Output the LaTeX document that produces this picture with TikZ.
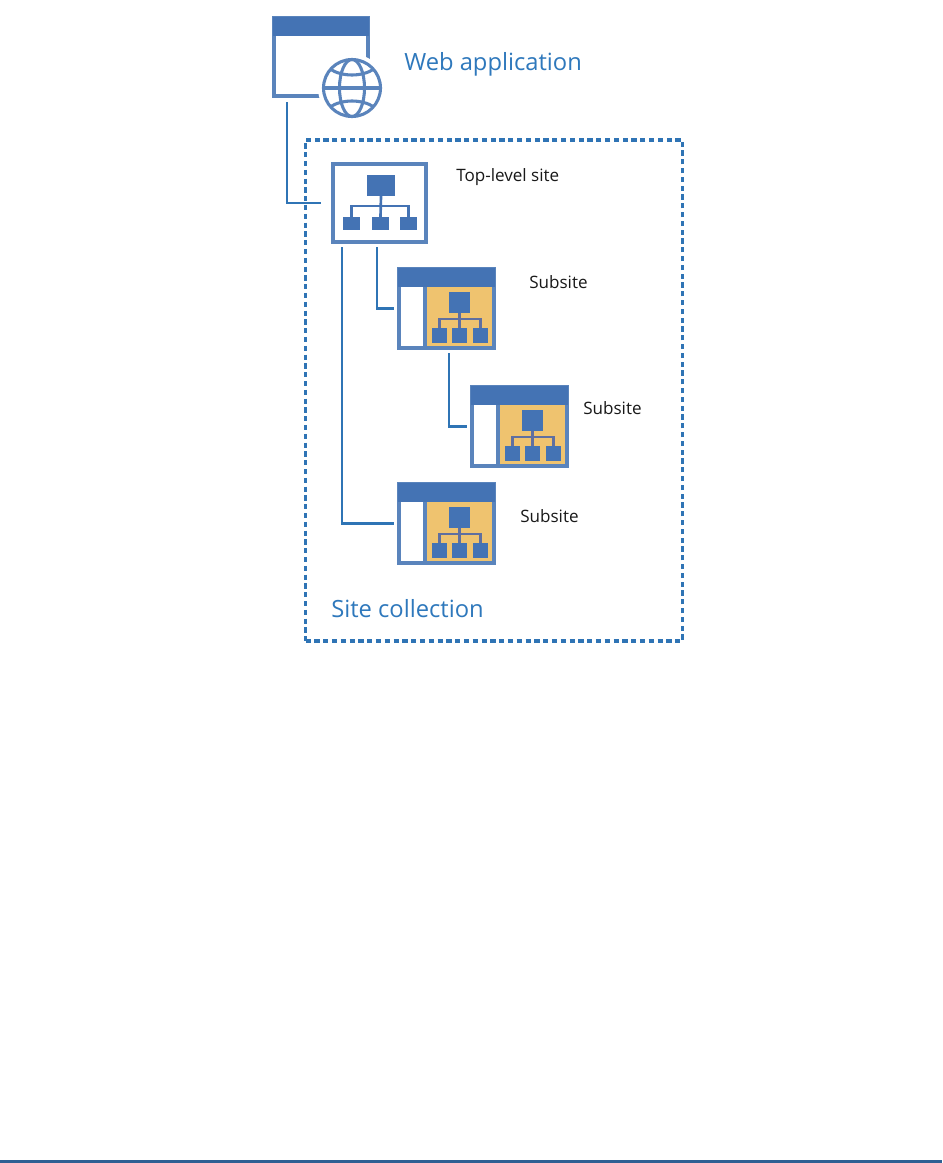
\documentclass[tikz,border=0pt]{standalone}
\usepackage{fontspec}
\setmainfont{Open Sans}
\definecolor{iconblue}{HTML}{4473B4}
\definecolor{lineblue}{HTML}{5A84BC}
\definecolor{linkblue}{HTML}{2F74B5}
\definecolor{textblue}{HTML}{2E78BC}
\definecolor{panel}{HTML}{EFC36F}
\definecolor{barblue}{HTML}{2F5F93}
\definecolor{treeline}{HTML}{5F6FA0}
\tikzset{
  px/.style={x=0.75pt,y=-0.75pt},
  box/.style={draw=lineblue,line width=2.3pt,fill=white,inner sep=0pt,outer sep=0pt,rectangle,anchor=north west},
  block/.style={fill=iconblue,inner sep=0pt,outer sep=0pt,rectangle,anchor=north west},
  bus/.style={draw=#1,line width=2pt},
  bus/.default=iconblue,
  link/.style={draw=linkblue,line width=2.2pt},
  title/.style={font=\fontsize{17.8}{21}\selectfont,text=textblue,anchor=base west,inner sep=0pt},
  label/.style={font=\fontsize{12.8}{15}\selectfont,text=black!90,anchor=base west,inner sep=0pt},
}
\newcommand{\subsite}[3]{%
  \begin{scope}[shift={(#2,#3)}]
  \node[box,minimum width=95*0.75pt,minimum height=79*0.75pt] (#1) at (1,1) {};
  \fill[panel] (27,19) rectangle (96,80);
  \draw[draw=lineblue,line width=2.3pt] (27,19) -- (27,80);
  \draw[draw=lineblue,line width=2.3pt] (1,1) rectangle (96,80);
  \node[block,minimum width=97*0.75pt,minimum height=19*0.75pt] (#1head) at (0,0) {};
  \node[block,minimum width=21*0.75pt,minimum height=21*0.75pt] (#1top) at (51,24) {};
  \node[block,minimum width=15*0.75pt,minimum height=15*0.75pt] (#1a) at (34,60) {};
  \node[block,minimum width=15*0.75pt,minimum height=15*0.75pt] (#1b) at (54,60) {};
  \node[block,minimum width=15*0.75pt,minimum height=15*0.75pt] (#1c) at (75,60) {};
  \draw[bus=treeline] (#1top.south) -- (#1b.north);
  \draw[bus=treeline] (#1a.north) -- ++(0,-9) -| (#1c.north);
  \end{scope}
}
\begin{document}
\begin{tikzpicture}[px]
\useasboundingbox (0,0) rectangle (942,1163);
\fill[white] (0,0) rectangle (942,1163);
\node[inner sep=0pt,outer sep=0pt,fill=barblue,anchor=north west,minimum width=942*0.75pt,minimum height=3*0.75pt] (bar) at (0,1160) {};

% site collection frame
\node[draw=linkblue,line width=2.3pt,dash pattern=on 3.9pt off 2.7pt,inner sep=0pt,outer sep=0pt,rectangle,anchor=north west,minimum width=377*0.75pt,minimum height=501*0.75pt] (collection) at (305.5,140) {};

% web application icon
\node[box,minimum width=94*0.75pt,minimum height=78*0.75pt] (webapp) at (274,18) {};
\node[block,minimum width=96*0.75pt,minimum height=19*0.75pt] (webhead) at (273,17) {};
\node[circle,fill=white,inner sep=0pt,minimum size=68*0.75pt] (globemask) at (352,88) {};
\node[circle,draw=lineblue,line width=2.3pt,fill=white,inner sep=0pt,outer sep=0pt,minimum size=57*0.75pt] (globe) at (352,88) {};
\begin{scope}[draw=lineblue,line width=2.3pt]
  \draw (globe.west) -- (globe.east);
  \draw (352,88) ellipse [x radius=12.5,y radius=28.5];
  \draw (330,69) .. controls (342,77) and (362,77) .. (374,69);
  \draw (330,107) .. controls (342,99) and (362,99) .. (374,107);
\end{scope}
\node[title] (webtitle) at (404,70) {Web application};

% top-level site icon
\node[box,minimum width=93*0.75pt,minimum height=78*0.75pt] (topsite) at (333,164) {};
\node[block,minimum width=28*0.75pt,minimum height=21*0.75pt] (toproot) at (367,175) {};
\node[block,minimum width=17*0.75pt,minimum height=13*0.75pt] (topa) at (343,217) {};
\node[block,minimum width=17*0.75pt,minimum height=13*0.75pt] (topb) at (372,217) {};
\node[block,minimum width=17*0.75pt,minimum height=13*0.75pt] (topc) at (400,217) {};
\draw[bus] (toproot.south) -- (topb.north);
\draw[bus] (topa.north) -- ++(0,-11) -| (topc.north);
\node[label] (toplabel) at (456,181.5) {Top-level site};

% subsites
\subsite{subone}{398}{268}
\subsite{subtwo}{471}{386}
\subsite{subthree}{398}{483}
\node[label] (sublabelone) at (529,288) {Subsite};
\node[label] (sublabeltwo) at (583,414) {Subsite};
\node[label] (sublabelthree) at (520,522) {Subsite};
\node[title] (sctitle) at (331,617.5) {Site collection};

% connectors
\draw[link,shorten <=4.5pt,shorten >=9pt] ([xshift=13*0.75pt]webapp.south west) |- (topsite.west);
\draw[link,shorten <=4pt,shorten >=3.5pt] ([xshift=9*0.75pt]topsite.south west) |- (subthree.west);
\draw[link,shorten <=4pt,shorten >=3.5pt] ([xshift=44*0.75pt]topsite.south west) |- (subone.west);
\draw[link,shorten <=4pt,shorten >=3.5pt] ([xshift=50*0.75pt]subone.south west) |- (subtwo.west);
\end{tikzpicture}
\end{document}
